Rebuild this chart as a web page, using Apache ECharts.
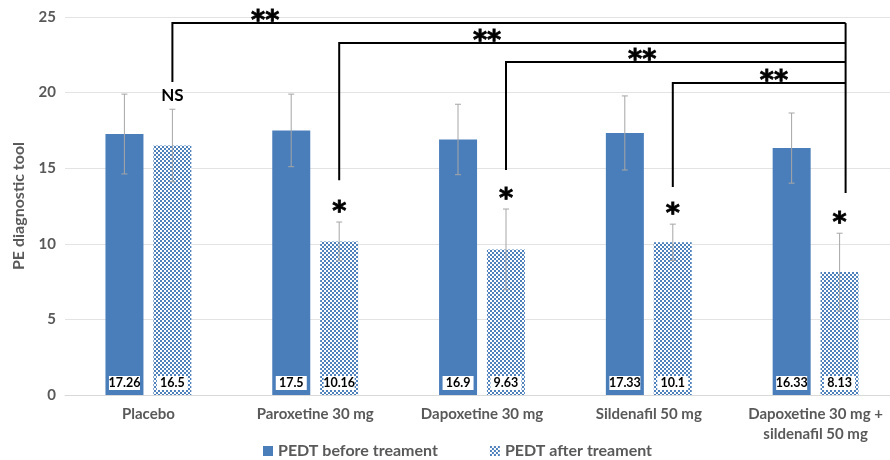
<!DOCTYPE html>
<html><head><meta charset="utf-8">
<script src="https://cdn.jsdelivr.net/npm/echarts@6/dist/echarts.min.js"></script>
<style>html,body{margin:0;padding:0;background:#fff}#c{width:890px;height:460px}</style>
</head><body><div id="c"></div>
<script>
// ---- data ----
const categories = ['Placebo', 'Paroxetine 30 mg', 'Dapoxetine 30 mg', 'Sildenafil 50 mg', 'Dapoxetine 30 mg +\nsildenafil 50 mg'];
const beforeValues = [17.26, 17.5, 16.9, 17.33, 16.33];
const afterValues = [16.5, 10.16, 9.63, 10.1, 8.13];
const beforeSD = [2.64, 2.4, 2.33, 2.45, 2.32];
const afterSD = [2.4, 1.28, 2.67, 1.2, 2.57];
const yTicks = [0, 5, 10, 15, 20, 25];
const significance = ['NS', '*', '*', '*', '*'];
// brackets: each group (after) vs combination (after)
const bracketFrom = [0, 1, 2, 3];
const bracketLevel = [24.6, 23.28, 22.02, 20.63];
const bracketDrop = [20.7, 14.2, 14.88, 13.76];
const bracketRightDrop = 13.36;
const bracketMarkAt = [0.70, 2.03, 2.96, 3.75];
const bracketMark = '**';
const seriesNames = ['PEDT before treament', 'PEDT after treament'];

// ---- styling ----
const BLUE = '#4a7ebb';
const GRAY_TXT = '#595959';
const FONT = 'Lato';
const BAR_W = 38, HALF_OFF = 24, RIGHT_OFF = 30;

function makePattern() {
  const c = document.createElement('canvas');
  c.width = 4; c.height = 4;
  const g = c.getContext('2d');
  g.fillStyle = '#ffffff'; g.fillRect(0, 0, 4, 4);
  g.fillStyle = '#4f81bd';
  g.fillRect(0, 0, 2, 2); g.fillRect(2, 2, 2, 2);
  return c;
}
const pattern = { image: makePattern(), repeat: 'repeat' };

const chart = echarts.init(document.getElementById('c'), null, { renderer: 'canvas' });

const labelCommon = {
  show: true, position: 'insideBottom', distance: 5,
  backgroundColor: '#fff', color: '#000', fontWeight: 'bold', fontSize: 12.5,
  fontFamily: FONT, width: 31, height: 14, lineHeight: 14, align: 'center'
};

function errorItem(offset) {
  return function (params, api) {
    const x = api.coord([api.value(0), 0])[0] + offset;
    const v = api.value(1), sd = api.value(2);
    const top = api.coord([0, v + sd])[1];
    const bot = api.coord([0, v - sd])[1];
    const st = { stroke: '#a6a6a6', lineWidth: 1 };
    return { type: 'group', children: [
      { type: 'line', shape: { x1: x, y1: top, x2: x, y2: bot }, style: st },
      { type: 'line', shape: { x1: x - 3, y1: top, x2: x + 3, y2: top }, style: st },
      { type: 'line', shape: { x1: x - 3, y1: bot, x2: x + 3, y2: bot }, style: st }
    ]};
  };
}

const option = {
  animation: false,
  textStyle: { fontFamily: FONT },
  grid: { left: 65, top: 17, right: -9, bottom: 65, containLabel: false, outerBoundsMode: 'none' },
  legend: {
    left: 258, top: 438, icon: 'rect', itemWidth: 10, itemHeight: 10, itemGap: 52,
    textStyle: { color: GRAY_TXT, fontWeight: 'bold', fontSize: 16, fontFamily: FONT },
    data: seriesNames
  },
  xAxis: {
    type: 'category', data: categories,
    axisLine: { lineStyle: { color: '#d9d9d9' } },
    axisTick: { show: false },
    axisLabel: { interval: 0, color: GRAY_TXT, fontWeight: 'bold', fontSize: 15, fontFamily: FONT, margin: 9, lineHeight: 20 }
  },
  yAxis: {
    type: 'value', min: yTicks[0], max: yTicks[yTicks.length - 1], interval: yTicks[1] - yTicks[0],
    name: 'PE diagnostic tool', nameLocation: 'middle', nameGap: 38,
    nameTextStyle: { color: GRAY_TXT, fontWeight: 'bold', fontSize: 16, fontFamily: FONT },
    axisLine: { show: false }, axisTick: { show: false },
    axisLabel: { color: GRAY_TXT, fontWeight: 'bold', fontSize: 15, fontFamily: FONT, margin: 9 },
    splitLine: { lineStyle: { color: '#e3e3e3' } }
  },
  series: [
    {
      name: seriesNames[0], type: 'bar', data: beforeValues, barWidth: BAR_W, barGap: '26%',
      itemStyle: { color: BLUE }, label: labelCommon
    },
    {
      name: seriesNames[1], type: 'bar', data: afterValues, barWidth: BAR_W,
      itemStyle: { color: pattern }, label: labelCommon
    },
    {
      type: 'custom', z: 5, silent: true,
      data: beforeValues.map((v, i) => [i, v, beforeSD[i]]),
      renderItem: errorItem(-HALF_OFF)
    },
    {
      type: 'custom', z: 5, silent: true,
      data: afterValues.map((v, i) => [i, v, afterSD[i]]),
      renderItem: errorItem(HALF_OFF)
    },
    {
      type: 'custom', z: 6, silent: true, clip: false,
      data: afterValues.map((v, i) => [i, v + afterSD[i], significance[i]]),
      renderItem: function (params, api) {
        const i = params.dataIndex;
        const x = api.coord([api.value(0), 0])[0] + HALF_OFF;
        const y = api.coord([0, api.value(1)])[1];
        const isNS = significance[i] === 'NS';
        return { type: 'text', style: {
          text: significance[i], x: x, y: isNS ? y - 14 : y + 4,
          align: 'center', verticalAlign: isNS ? 'middle' : 'bottom',
          font: isNS ? 'bold 17px ' + FONT : 'bold 27px "DejaVu Sans"', fill: '#000',
          stroke: isNS ? null : '#000', lineWidth: isNS ? 0 : 0.8
        }};
      }
    },
    {
      type: 'custom', z: 6, silent: true, clip: false,
      data: bracketFrom.map((c, i) => [c, bracketLevel[i], bracketDrop[i], bracketMarkAt[i]]),
      renderItem: function (params, api) {
        const last = categories.length - 1;
        const x1 = api.coord([api.value(0), 0])[0] + HALF_OFF;
        const x2 = api.coord([last, 0])[0] + RIGHT_OFF;
        const yL = api.coord([0, api.value(1)])[1];
        const yD = api.coord([0, api.value(2)])[1];
        const yR = api.coord([0, bracketRightDrop])[1];
        const cw = api.size([1, 0])[0];
        const xm = api.coord([0, 0])[0] + api.value(3) * cw;
        const st = { stroke: '#000', lineWidth: 2 };
        const children = [
          { type: 'polyline', shape: { points: [[x1, yD], [x1, yL], [x2, yL]] }, style: Object.assign({ fill: null }, st) },
          { type: 'text', style: { text: bracketMark, x: xm, y: yL + 12, align: 'center', verticalAlign: 'bottom',
            font: 'bold 27px "DejaVu Sans"', fill: '#000', stroke: '#000', lineWidth: 0.8 } }
        ];
        if (params.dataIndex === 0) {
          children.push({ type: 'line', shape: { x1: x2, y1: yL, x2: x2, y2: yR }, style: st });
        }
        return { type: 'group', children: children };
      }
    }
  ]
};
chart.setOption(option);
</script>
</body></html>
